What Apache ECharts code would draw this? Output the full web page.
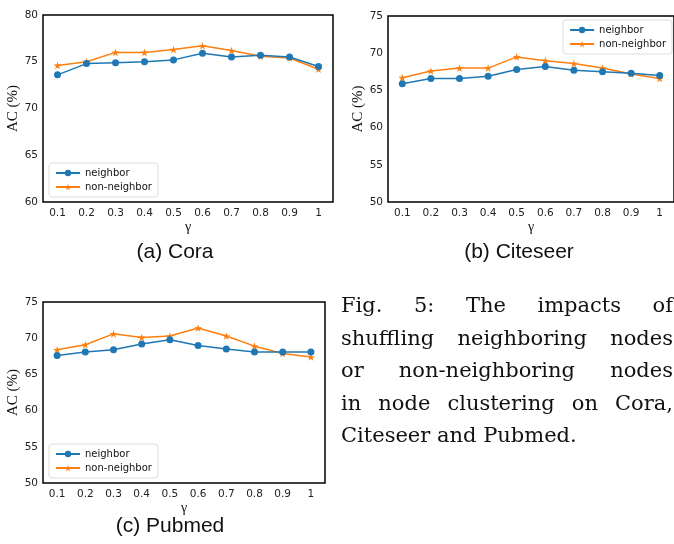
<!DOCTYPE html>
<html>
<head>
<meta charset="utf-8">
<script src="https://cdn.jsdelivr.net/npm/echarts@6/dist/echarts.min.js"></script>
<style>
  html, body { margin: 0; padding: 0; background: #fff; }
  #chart { width: 674px; height: 544px; }
</style>
</head>
<body>
<div id="chart"></div>
<script>
// gamma values on the x axis
const gammas = ["0.1", "0.2", "0.3", "0.4", "0.5", "0.6", "0.7", "0.8", "0.9", "1"];

// (a) Cora
const coraNeighbor = [73.6, 74.8, 74.9, 75.0, 75.2, 75.9, 75.5, 75.7, 75.5, 74.5];
const coraNonNeighbor = [74.6, 75.0, 76.0, 76.0, 76.3, 76.7, 76.2, 75.6, 75.4, 74.2];

// (b) Citeseer
const citeNeighbor = [65.9, 66.6, 66.6, 66.9, 67.8, 68.2, 67.7, 67.5, 67.3, 67.0];
const citeNonNeighbor = [66.7, 67.6, 68.0, 68.0, 69.5, 69.0, 68.6, 68.0, 67.2, 66.6];

// (c) Pubmed
const pubNeighbor = [67.6, 68.1, 68.4, 69.2, 69.8, 69.0, 68.5, 68.1, 68.1, 68.1];
const pubNonNeighbor = [68.4, 69.1, 70.6, 70.1, 70.3, 71.4, 70.3, 68.9, 67.9, 67.4];

const captions = ["(a) Cora", "(b) Citeseer", "(c) Pubmed"];
const figLines = [
  ["Fig.", "5:", "The", "impacts", "of"],
  ["shuffling", "neighboring", "nodes"],
  ["or", "non-neighboring", "nodes"],
  ["in", "node", "clustering", "on", "Cora,"],
  ["Citeseer", "and", "Pubmed."]
];

const blue = "#1f77b4";
const orange = "#ff7f0e";
const star = "path://M0,-1 L0.2245,-0.309 L0.951,-0.309 L0.363,0.118 L0.588,0.809 L0,0.382 L-0.588,0.809 L-0.363,0.118 L-0.951,-0.309 L-0.2245,-0.309 Z";
const tickFont = { fontFamily: "DejaVu Sans", fontSize: 10.5, color: "#222" };
const serif = "Liberation Serif";
const capSerif = "DejaVu Serif";

const grids = [
  { left: 43, top: 15, width: 290, height: 187 },
  { left: 388, top: 16, width: 290, height: 186 },
  { left: 43, top: 302, width: 282, height: 181 }
];
const yRanges = [[60, 80], [50, 75], [50, 75]];
const legendPos = [
  { left: 49, top: 163 },
  { right: 2, top: 20 },
  { left: 49, top: 444 }
];
const pairs = [
  [coraNeighbor, coraNonNeighbor],
  [citeNeighbor, citeNonNeighbor],
  [pubNeighbor, pubNonNeighbor]
];

const chart = echarts.init(document.getElementById("chart"));

const series = [];
pairs.forEach((p, i) => {
  series.push({
    name: "neighbor", type: "line", xAxisIndex: i, yAxisIndex: i,
    data: p[0], symbol: "circle", symbolSize: 7,
    itemStyle: { color: blue }, lineStyle: { color: blue, width: 1.5 },
    z: 3
  });
  series.push({
    name: "non-neighbor", type: "line", xAxisIndex: i, yAxisIndex: i,
    data: p[1], symbol: star, symbolSize: 8, symbolKeepAspect: true,
    itemStyle: { color: orange }, lineStyle: { color: orange, width: 1.5 },
    z: 2
  });
});

// justify the caption lines by measuring each word
const ctx = document.createElement("canvas").getContext("2d");
const capFont = "21px '" + capSerif + "'";
ctx.font = capFont;
const capLeft = 341, capRight = 673;
const graphic = [];
figLines.forEach((words, li) => {
  const widths = words.map(w => ctx.measureText(w).width);
  const total = widths.reduce((a, b) => a + b, 0);
  const last = li === figLines.length - 1;
  const gap = last ? ctx.measureText(" ").width : (capRight - capLeft - total) / (words.length - 1);
  let x = capLeft;
  words.forEach((w, wi) => {
    graphic.push({
      type: "text", left: x, top: 296 + li * 32.6,
      style: { text: w, font: capFont, fill: "#111" }
    });
    x += widths[wi] + gap;
  });
});
const capPos = [[175, 242], [519, 242], [170, 516]];
captions.forEach((c, i) => {
  graphic.push({
    type: "text", x: capPos[i][0], y: capPos[i][1],
    style: { text: c, font: "21px 'Liberation Sans'", fill: "#111", align: "center" }
  });
});

chart.setOption({
  animation: false,
  grid: grids.map(g => Object.assign({ show: true, borderColor: "#000", borderWidth: 1.5, backgroundColor: "#fff" }, g)),
  xAxis: grids.map((g, i) => ({
    type: "category", gridIndex: i, data: gammas, boundaryGap: true,
    name: "γ", nameLocation: "middle", nameGap: 14,
    nameTextStyle: { fontFamily: serif, fontSize: 14, color: "#111" },
    axisLine: { show: false }, axisTick: { show: false },
    axisLabel: Object.assign({ margin: 6 }, tickFont),
    splitLine: { show: false }
  })),
  yAxis: yRanges.map((r, i) => ({
    type: "value", gridIndex: i, min: r[0], max: r[1], interval: 5,
    name: "AC (%)", nameLocation: "middle", nameGap: 17, nameRotate: 90,
    nameTextStyle: { fontFamily: serif, fontSize: 15, color: "#111" },
    axisLine: { show: false }, axisTick: { show: false },
    axisLabel: Object.assign({ margin: 5 }, tickFont),
    splitLine: { show: false }
  })),
  legend: legendPos.map(pos => Object.assign({
    orient: "vertical", data: ["neighbor", "non-neighbor"],
    backgroundColor: "#fff", borderColor: "#ddd", borderWidth: 1, borderRadius: 3,
    padding: [5, 6], itemGap: 4, itemWidth: 24, itemHeight: 8,
    textStyle: { fontFamily: "DejaVu Sans", fontSize: 10, color: "#111" },
    selectedMode: false
  }, pos)),
  graphic: graphic,
  series: series
});
</script>
</body>
</html>
